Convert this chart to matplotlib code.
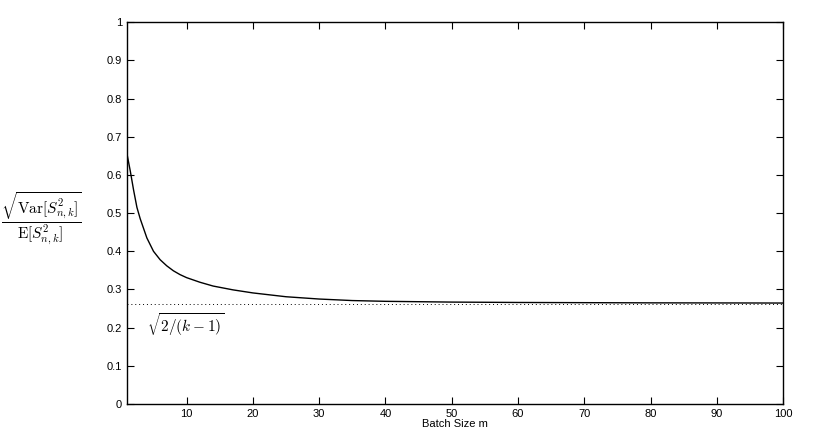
import numpy as np
import matplotlib
matplotlib.use("Agg")
import matplotlib.pyplot as plt

# values
batch_size = [1, 1.5, 2, 2.5, 3, 4, 5, 6, 7, 8, 9, 10, 12, 14, 17, 20, 25, 30, 35, 40,
              50, 60, 70, 80, 90, 100]
ratio = [0.655, 0.610, 0.560, 0.515, 0.485, 0.435, 0.400, 0.378, 0.362, 0.349, 0.339, 0.331,
         0.319, 0.309, 0.299, 0.291, 0.281, 0.275, 0.271, 0.269, 0.267, 0.266, 0.2655,
         0.265, 0.2648, 0.2645]
k = 30
limit = np.sqrt(2 / (k - 1))

plt.rcParams["mathtext.fontset"] = "cm"
plt.rcParams["font.family"] = ["Liberation Sans", "DejaVu Sans"]

fig = plt.figure(figsize=(8.14, 4.44), dpi=100)
ax = fig.add_axes([0.156, 0.090, 0.806, 0.860])

ax.plot(batch_size, ratio, color="black", lw=1.0)
ax.plot([1, 100], [limit, limit], color="black", lw=0.7, ls=(0, (1, 3)))
ax.text(4.0, 0.207, r"$\sqrt{2/(k-1)}$", fontsize=11, va="center", ha="left")

ax.set_xlim(1, 100)
ax.set_ylim(0, 1)
ax.set_xticks(range(10, 101, 10))
ax.set_yticks(np.arange(0, 1.01, 0.1))
ax.set_yticklabels(["0"] + [f"{v:.1f}" for v in np.arange(0.1, 0.95, 0.1)] + ["1"])
ax.tick_params(direction="in", top=True, right=True, length=5, width=0.8, labelsize=8)
for s in ax.spines.values():
    s.set_linewidth(1.0)

ax.set_xlabel("Batch Size m", fontsize=8, labelpad=0)
fig.text(0.001, 0.508,
         r"$\dfrac{\sqrt{\mathrm{Var}[S^2_{n,k}]}}{\mathrm{E}[S^2_{n,k}]}$",
         fontsize=11, ha="left", va="center")

fig.savefig("out.png", dpi=100)
